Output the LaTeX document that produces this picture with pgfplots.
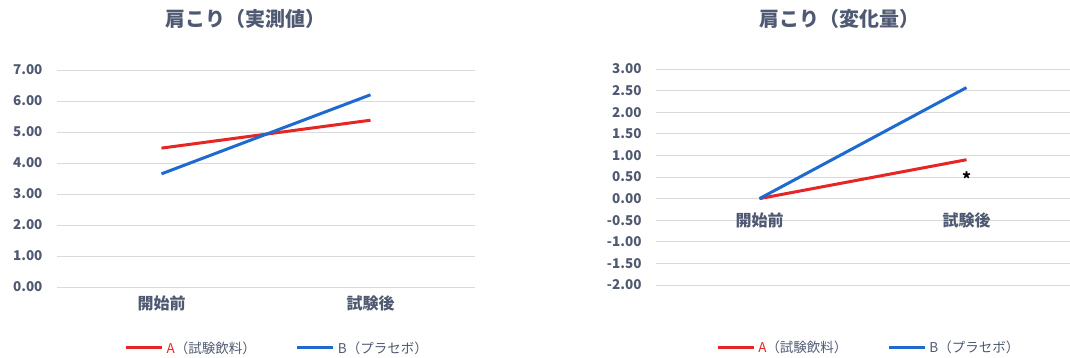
\documentclass[border=0pt]{standalone}
\usepackage{pgfplots}
\pgfplotsset{compat=1.18}
\usepackage{fontspec}
\setmainfont{Noto Sans CJK JP}
\definecolor{textc}{HTML}{4F5A72}
\definecolor{gridc}{HTML}{DADADA}
\definecolor{redc}{HTML}{E62525}
\definecolor{bluec}{HTML}{1E6ACF}
\pgfplotsset{
  mystyle/.style={
    scale only axis,
    xmin=-0.5, xmax=1.5,
    xtick={0,1}, xticklabels={開始前,試験後},
    ymajorgrids,
    grid style={draw=gridc, line width=0.8pt},
    axis line style={draw=none},
    major tick length=0pt,
    tick label style={font=\bfseries\fontsize{13.5}{15}\selectfont, text=textc},
    yticklabel style={xshift=-11pt, /pgf/number format/.cd, fixed, fixed zerofill, precision=2, assume math mode=true},
    xticklabel style={font=\bfseries\fontsize{16}{18}\selectfont, text=textc, yshift=-5pt},
    title style={font=\bfseries\fontsize{20}{22}\selectfont, text=textc, anchor=center},
    legend columns=2,
    legend style={draw=none, fill=none, font=\fontsize{13.5}{15}\selectfont, text=textc, anchor=center,
      /tikz/every odd column/.style={column sep=1pt},
      /tikz/every even column/.style={column sep=38pt}},
    legend image code/.code={\draw[line width=3pt] (0pt,0pt) -- (36pt,0pt);},
    clip=false,
  }
}
\begin{document}
\begin{tikzpicture}
\useasboundingbox (0,0) rectangle (1070pt,358pt);
\begin{axis}[mystyle,
  at={(57pt,71pt)}, anchor=south west,
  width=418pt, height=217pt,
  ymin=0, ymax=7, ytick={0,1,2,3,4,5,6,7},
  title={肩こり（実測値）},
  title style={at={(axis description cs:0.45,1)}, yshift=45pt},
  legend style={at={(axis description cs:0.527,-0.281)}},
]
\addplot[color=redc, line width=3pt] coordinates {(0,4.48) (1,5.38)};
\addlegendentry{\textcolor{redc}{A}（試験飲料）}
\addplot[color=bluec, line width=3pt] coordinates {(0,3.65) (1,6.20)};
\addlegendentry{B（プラセボ）}
\end{axis}
\begin{axis}[mystyle,
  at={(656pt,73pt)}, anchor=south west,
  width=414pt, height=216pt,
  axis x line=middle, axis y line=left,
  axis line style={draw=none,-},
  ymin=-2, ymax=3, ytick={-2,-1.5,...,3},
  xticklabel style={yshift=-6pt},
  title={肩こり（変化量）},
  title style={at={(axis description cs:0.444,1)}, yshift=44pt},
  legend style={at={(axis description cs:0.514,-0.29)}},
]
\addplot[color=redc, line width=3pt] coordinates {(0,0) (1,0.90)};
\addlegendentry{\textcolor{redc}{A}（試験飲料）}
\addplot[color=bluec, line width=3pt] coordinates {(0,0) (1,2.57)};
\addlegendentry{B（プラセボ）}
\node[font=\bfseries\fontsize{17}{17}\selectfont, text=black] at (axis cs:1,0.46) {*};
\end{axis}
\end{tikzpicture}
\end{document}
